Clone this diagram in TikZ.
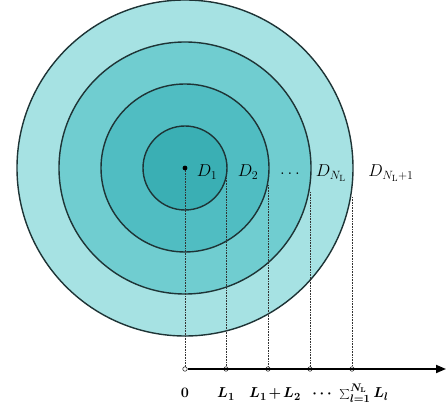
\documentclass[tikz,border=0pt]{standalone}
\usetikzlibrary{arrows.meta}
\definecolor{cA}{HTML}{A6E2E3}
\definecolor{cB}{HTML}{70CDD0}
\definecolor{cC}{HTML}{50BDC2}
\definecolor{cD}{HTML}{3AAFB4}
\definecolor{edge}{HTML}{1E3436}
\tikzset{
  ring/.style={draw=edge, line width=1.4pt},
  guide/.style={densely dotted, line width=0.6pt, black!80},
  tick/.style={circle, draw=black!80, fill=white, inner sep=0pt, minimum size=4.5pt, line width=0.6pt},
  lab/.style={font=\fontsize{18}{20}\selectfont, inner sep=0pt},
  axlab/.style={font=\fontsize{15}{18}\selectfont\boldmath, inner sep=0pt, anchor=base}
}
\begin{document}
\begin{tikzpicture}[x=1pt,y=-1pt]
\useasboundingbox (0,0) rectangle (448,411);
\coordinate (c) at (185,168);
\fill[cA] (c) circle (168);
\fill[cB] (c) circle (126);
\fill[cC] (c) circle (84);
\fill[cD] (c) circle (42);
\draw[ring] (c) circle (168);
\draw[ring] (c) circle (126);
\draw[ring] (c) circle (84);
\draw[ring] (c) circle (42);
% guide start points
\coordinate (s1) at (226,178);
\coordinate (s2) at (268,185);
\coordinate (s3) at (310,192);
\coordinate (s4) at (352,197);
% axis
\node[tick] (t0) at (185,369) {};
\node[tick] (t1) at (226,369) {};
\node[tick] (t2) at (268,369) {};
\node[tick] (t3) at (310,369) {};
\node[tick] (t4) at (352,369) {};
\coordinate (tend) at (446,369);
\draw[line width=1.8pt, -{Triangle[length=10pt,width=8pt]}] (t0) -- (tend);
\draw[guide] (c) -- (t0);
\draw[guide] (s1) -- (t1);
\draw[guide] (s2) -- (t2);
\draw[guide] (s3) -- (t3);
\draw[guide] (s4) -- (t4);
\fill[black] (c) circle (2.4);
% labels
\node[lab, anchor=base] (d1) at (207,177) {$D_1$};
\node[lab, anchor=base] (d2) at (248,177) {$D_2$};
\node[lab, anchor=base] (dd) at (290,175) {$\ldots$};
\node[lab, anchor=base] (dn) at (331,177) {$D_{N_{\mathrm{L}}}$};
\node[lab, anchor=base] (dn1) at (391,177) {$D_{N_{\mathrm{L}}+1}$};
\node[axlab] (a0) at (185,398) {$0$};
\node[axlab] (a1) at (226,398) {$L_1$};
\node[axlab] (a2) at (275,398) {$\medmuskip=2mu L_1+L_2$};
\node[axlab] (a3) at (322,398) {$\cdots$};
\node[axlab] (a4) at (364,398) {$\sum_{l=1}^{N_{\mathrm{L}}} L_l$};
\end{tikzpicture}
\end{document}
